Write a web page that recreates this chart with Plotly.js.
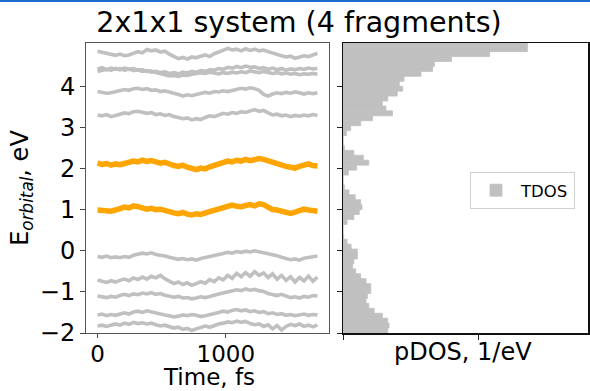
<!DOCTYPE html>
<html>
<head>
<meta charset="utf-8">
<script src="https://cdn.plot.ly/plotly-3.0.1.min.js"></script>
<style>html,body{margin:0;padding:0;background:#fff;}#chart{width:590px;height:391px;}</style>
</head>
<body>
<div id="chart"></div>
<script>
// Time grid (fs)
const time = [0,35,70,105,140,175,210,245,280,315,350,385,420,455,490,525,560,595,630,665,700,735,770,805,840,875,910,945,980,1015,1050,1085,1120,1155,1190,1225,1260,1295,1330,1365,1400,1435,1470,1505,1540,1575,1610,1645,1680,1715];

// Orbital energies (eV), gray orbitals
const orbA = [4.85,4.82,4.79,4.77,4.75,4.78,4.74,4.76,4.80,4.84,4.81,4.89,4.86,4.88,4.83,4.85,4.78,4.72,4.67,4.70,4.66,4.71,4.69,4.73,4.76,4.72,4.79,4.83,4.87,4.92,4.88,4.90,4.86,4.91,4.87,4.90,4.86,4.88,4.84,4.80,4.78,4.74,4.71,4.73,4.68,4.71,4.74,4.72,4.76,4.80];
const orbB = [4.42,4.45,4.40,4.44,4.41,4.43,4.39,4.42,4.38,4.40,4.36,4.38,4.34,4.36,4.33,4.35,4.31,4.33,4.30,4.34,4.32,4.36,4.34,4.38,4.36,4.40,4.39,4.43,4.41,4.46,4.44,4.48,4.45,4.49,4.46,4.47,4.43,4.45,4.41,4.44,4.40,4.43,4.39,4.42,4.40,4.43,4.41,4.44,4.42,4.43];
const orbC = [4.36,4.38,4.41,4.39,4.43,4.40,4.44,4.41,4.43,4.39,4.40,4.36,4.37,4.33,4.30,4.27,4.25,4.26,4.24,4.27,4.26,4.29,4.30,4.33,4.31,4.34,4.32,4.30,4.33,4.31,4.34,4.32,4.35,4.33,4.37,4.35,4.33,4.36,4.34,4.31,4.33,4.30,4.32,4.29,4.31,4.28,4.30,4.29,4.31,4.29];
const orbD = [3.87,3.85,3.83,3.84,3.86,3.89,3.92,3.90,3.94,3.95,3.92,3.94,3.90,3.91,3.87,3.89,3.85,3.83,3.80,3.76,3.79,3.77,3.80,3.82,3.85,3.83,3.87,3.86,3.89,3.87,3.90,3.92,3.95,3.93,3.96,3.94,3.90,3.80,3.76,3.81,3.84,3.82,3.85,3.83,3.86,3.84,3.81,3.84,3.82,3.84];
const orbE = [3.30,3.28,3.31,3.26,3.29,3.32,3.35,3.33,3.38,3.39,3.36,3.34,3.36,3.31,3.33,3.29,3.31,3.26,3.24,3.21,3.23,3.18,3.21,3.19,3.24,3.28,3.26,3.31,3.34,3.32,3.36,3.34,3.38,3.36,3.40,3.43,3.39,3.41,3.35,3.30,3.32,3.28,3.30,3.26,3.29,3.27,3.30,3.28,3.31,3.29];
const orbH = [-0.14,-0.16,-0.13,-0.17,-0.15,-0.17,-0.14,-0.16,-0.11,-0.08,-0.06,-0.08,-0.05,-0.09,-0.10,-0.13,-0.16,-0.19,-0.21,-0.19,-0.22,-0.20,-0.23,-0.19,-0.17,-0.15,-0.13,-0.09,-0.07,-0.04,-0.06,-0.02,-0.04,-0.01,-0.03,0.00,-0.02,-0.05,-0.07,-0.10,-0.12,-0.16,-0.19,-0.22,-0.20,-0.23,-0.18,-0.16,-0.14,-0.13];
const orbI = [-0.71,-0.74,-0.77,-0.73,-0.76,-0.72,-0.69,-0.73,-0.66,-0.70,-0.64,-0.69,-0.62,-0.66,-0.60,-0.68,-0.74,-0.80,-0.76,-0.82,-0.78,-0.84,-0.80,-0.75,-0.79,-0.70,-0.75,-0.66,-0.71,-0.60,-0.67,-0.55,-0.63,-0.53,-0.62,-0.51,-0.60,-0.54,-0.65,-0.56,-0.69,-0.60,-0.72,-0.63,-0.76,-0.65,-0.73,-0.62,-0.74,-0.64];
const orbJ = [-1.10,-1.12,-1.14,-1.11,-1.13,-1.09,-1.06,-1.09,-1.05,-1.07,-1.03,-1.05,-1.02,-1.06,-1.04,-1.08,-1.10,-1.13,-1.11,-1.15,-1.14,-1.17,-1.15,-1.12,-1.14,-1.10,-1.08,-1.05,-1.03,-1.00,-0.98,-0.95,-0.97,-0.93,-0.96,-0.94,-0.97,-0.99,-1.04,-1.07,-1.09,-1.06,-1.11,-1.14,-1.12,-1.15,-1.11,-1.13,-1.09,-1.10];
const orbK = [-1.56,-1.54,-1.58,-1.55,-1.57,-1.53,-1.51,-1.54,-1.49,-1.47,-1.50,-1.46,-1.49,-1.51,-1.53,-1.56,-1.58,-1.61,-1.59,-1.56,-1.58,-1.55,-1.57,-1.60,-1.58,-1.56,-1.53,-1.50,-1.47,-1.49,-1.45,-1.43,-1.46,-1.44,-1.48,-1.46,-1.50,-1.48,-1.53,-1.51,-1.55,-1.53,-1.57,-1.55,-1.58,-1.56,-1.54,-1.57,-1.55,-1.56];
const orbL = [-1.83,-1.81,-1.84,-1.80,-1.78,-1.81,-1.76,-1.79,-1.74,-1.77,-1.75,-1.78,-1.76,-1.80,-1.83,-1.81,-1.85,-1.88,-1.86,-1.91,-1.89,-1.94,-1.90,-1.87,-1.83,-1.86,-1.81,-1.78,-1.76,-1.73,-1.75,-1.71,-1.74,-1.72,-1.77,-1.80,-1.78,-1.84,-1.80,-1.90,-1.82,-1.93,-1.84,-1.79,-1.82,-1.78,-1.84,-1.81,-1.85,-1.80];

// Orbital energies (eV), highlighted (orange) orbitals
const orbF = [2.13,2.10,2.12,2.08,2.11,2.09,2.12,2.14,2.18,2.16,2.20,2.17,2.19,2.16,2.13,2.15,2.10,2.07,2.05,2.08,2.03,2.00,1.97,2.01,1.99,2.04,2.07,2.10,2.14,2.18,2.16,2.20,2.18,2.22,2.19,2.21,2.24,2.22,2.18,2.15,2.13,2.09,2.05,2.03,2.01,2.05,2.08,2.11,2.07,2.06];
const orbG = [0.99,0.97,0.95,0.96,0.99,1.03,1.06,1.04,1.09,1.07,1.03,1.01,1.03,1.00,1.01,0.97,0.95,0.92,0.90,0.93,0.89,0.87,0.90,0.88,0.92,0.95,0.98,1.02,1.06,1.09,1.11,1.08,1.07,1.10,1.12,1.09,1.14,1.12,1.06,1.00,0.99,0.96,0.93,0.91,0.94,0.98,1.01,0.99,0.97,0.96];

// TDOS histogram: bin centres (eV) and densities
const dosEnergy = [-1.94,-1.82,-1.70,-1.58,-1.46,-1.34,-1.22,-1.10,-0.98,-0.86,-0.74,-0.62,-0.50,-0.38,-0.26,-0.14,-0.02,0.10,0.22,0.34,0.46,0.58,0.70,0.82,0.94,1.06,1.18,1.30,1.42,1.54,1.66,1.78,1.90,2.02,2.14,2.26,2.38,2.50,2.62,2.74,2.86,2.98,3.10,3.22,3.34,3.46,3.58,3.70,3.82,3.94,4.06,4.18,4.30,4.42,4.54,4.66,4.78,4.90,5.02];
const dosValue = [0.33,0.34,0.33,0.29,0.23,0.19,0.17,0.18,0.205,0.205,0.17,0.13,0.094,0.07,0.08,0.106,0.106,0.06,0.03,0.005,0,0,0.03,0.08,0.12,0.14,0.13,0.09,0.044,0.01,0,0,0.04,0.10,0.19,0.15,0.08,0.01,0,0,0.025,0.057,0.13,0.217,0.365,0.316,0.29,0.33,0.40,0.44,0.415,0.45,0.575,0.66,0.674,0.80,1.08,1.36,1.36];

const yTicks = [-2,-1,0,1,2,3,4];
const xTicks = [0,1000];

const grayOrbitals = [orbA, orbB, orbC, orbD, orbE, orbH, orbI, orbJ, orbK, orbL];
const orangeOrbitals = [orbF, orbG];

const FONT = 'DejaVu Sans, sans-serif';
const traces = [];
grayOrbitals.forEach(s => traces.push({x: time, y: s, type: 'scatter', mode: 'lines',
  line: {color: '#c0c0c0', width: 3.6}, showlegend: false, xaxis: 'x', yaxis: 'y', hoverinfo: 'skip'}));
orangeOrbitals.forEach(s => traces.push({x: time, y: s, type: 'scatter', mode: 'lines',
  line: {color: '#ffa500', width: 5.5}, showlegend: false, xaxis: 'x', yaxis: 'y', hoverinfo: 'skip'}));
traces.push({type: 'bar', orientation: 'h', y: dosEnergy, x: dosValue, width: 0.12,
  marker: {color: '#c0c0c0', line: {width: 0.8, color: '#c0c0c0'}}, name: 'TDOS', xaxis: 'x2', yaxis: 'y2', showlegend: true});

const W = 590, H = 391;
const layout = {
  width: W, height: H,
  margin: {l: 0, r: 0, t: 0, b: 0},
  paper_bgcolor: '#fff', plot_bgcolor: '#fff',
  font: {family: FONT, color: '#000', size: 24},
  bargap: 0,
  title: {text: '2x1x1 system (4 fragments)', font: {family: FONT, size: 28.5, color: '#000'},
    x: 299/W, xanchor: 'center', y: 1 - 22/H, yanchor: 'middle'},
  xaxis: {domain: [86/W, 329/W], range: [-90, 1805], tickvals: xTicks, ticks: 'outside', ticklen: 4,
    ticklabelstandoff: -4,
    tickcolor: '#444', showgrid: false, zeroline: false, showline: true, linecolor: '#555', mirror: true,
    tickfont: {size: 23}, anchor: 'y'},
  yaxis: {domain: [1 - 333/H, 1 - 43/H], range: [-2, 5.05], tickvals: yTicks, ticks: 'outside', ticklen: 5,
    tickcolor: '#444', showgrid: false, zeroline: false, showline: true, linecolor: '#555', mirror: true,
    tickfont: {size: 24}, title: {text: 'E<sub><i>orbital</i></sub>, eV', font: {size: 24}}, anchor: 'x'},
  xaxis2: {domain: [343/W, 588/W], range: [0, 1.807], tickvals: [0, 1], ticks: 'outside', ticklen: 5,
    tickcolor: '#222', showticklabels: false, showgrid: false, zeroline: false, showline: true,
    linecolor: '#111', linewidth: 1.5, mirror: true, anchor: 'y2'},
  yaxis2: {domain: [1 - 333/H, 1 - 43/H], range: [-2, 5.05], tickvals: yTicks, ticks: 'outside', ticklen: 5,
    tickcolor: '#222', showticklabels: false, showgrid: false, zeroline: false, showline: true,
    linecolor: '#111', linewidth: 1.5, mirror: true, anchor: 'x2'},
  legend: {x: 470/W, y: 1 - 172/H, xanchor: 'left', yanchor: 'top', bgcolor: '#fff',
    bordercolor: '#d0d0d0', borderwidth: 1, itemwidth: 40, font: {family: FONT, size: 16.5, color: '#000'}},
  annotations: [
    {text: 'Time, fs', xref: 'paper', yref: 'paper', x: 209/W, y: 1 - 376.5/H, xanchor: 'center', yanchor: 'middle',
      showarrow: false, font: {family: FONT, size: 23, color: '#000'}},
    {text: 'pDOS, 1/eV', xref: 'paper', yref: 'paper', x: 463/W, y: 1 - 352/H, xanchor: 'center', yanchor: 'middle',
      showarrow: false, font: {family: FONT, size: 24, color: '#000'}}
  ],
  shapes: [{type: 'rect', xref: 'paper', yref: 'paper', x0: 0, x1: 1, y0: 1 - 2/H, y1: 1,
    fillcolor: '#1a6ad0', line: {width: 0}}]
};
Plotly.newPlot('chart', traces, layout, {staticPlot: true, displayModeBar: false});
</script>
</body>
</html>
